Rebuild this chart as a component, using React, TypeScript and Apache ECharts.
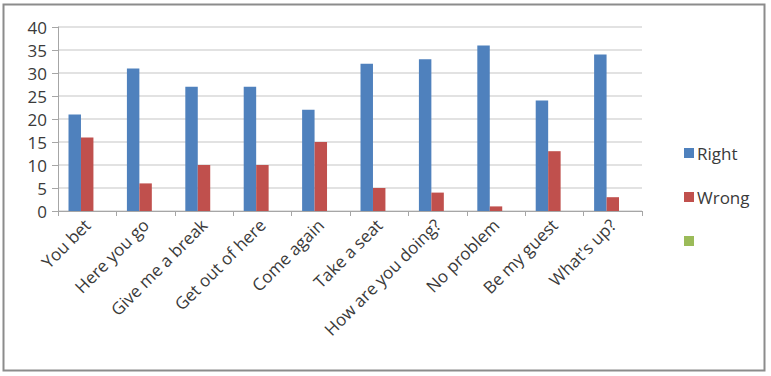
import React, { useEffect, useRef } from "react";
import * as echarts from "echarts";

const categories = [
  "You bet",
  "Here you go",
  "Give me a break",
  "Get out of here",
  "Come again",
  "Take a seat",
  "How are you doing?",
  "No problem",
  "Be my guest",
  "What's up?",
];
const rightValues = [21, 31, 27, 27, 22, 32, 33, 36, 24, 34];
const wrongValues = [16, 6, 10, 10, 15, 5, 4, 1, 13, 3];
const thirdValues: number[] = [];
const seriesNames = ["Right", "Wrong", "\u00a0"];
const yTicks = { min: 0, max: 40, interval: 5 };

export default function App() {
  const ref = useRef<HTMLDivElement>(null);
  useEffect(() => {
    if (!ref.current) return;
    const chart = echarts.init(ref.current, undefined, { renderer: "svg" });
    const font = "'Open Sans', Lato, sans-serif";
    chart.setOption({
      animation: false,
      backgroundColor: "#ffffff",
      textStyle: { fontFamily: font },
      grid: { left: 58, right: 129, top: 27, bottom: 165 },
      legend: {
        orient: "vertical",
        left: 679,
        top: 138,
        itemWidth: 10,
        itemHeight: 10,
        itemGap: 24,
        icon: "rect",
        data: seriesNames,
        textStyle: { fontSize: 17, lineHeight: 20, color: "#3a3a3a", fontFamily: font, padding: [0, 0, 0, -2] },
      },
      xAxis: {
        type: "category",
        data: categories,
        axisLine: { lineStyle: { color: "#a6a6a6", width: 1 } },
        axisTick: { show: true, length: 5, lineStyle: { color: "#a6a6a6" }, alignWithLabel: false },
        axisLabel: { rotate: 45, fontSize: 17, color: "#3a3a3a", margin: 11, interval: 0, fontFamily: font },
      },
      yAxis: {
        type: "value",
        min: yTicks.min,
        max: yTicks.max,
        interval: yTicks.interval,
        axisLine: { show: true, lineStyle: { color: "#a6a6a6", width: 1 } },
        axisTick: { show: true, length: 6, lineStyle: { color: "#a6a6a6" } },
        splitLine: { show: true, lineStyle: { color: "#d9d9d9", width: 1.5 } },
        axisLabel: { fontSize: 17, color: "#3a3a3a", margin: 11, fontFamily: font },
      },
      series: [
        {
          name: seriesNames[0],
          type: "bar",
          data: rightValues,
          itemStyle: { color: "#4f81bd" },
          barGap: "0%",
          barCategoryGap: "36%",
        },
        {
          name: seriesNames[1],
          type: "bar",
          data: wrongValues,
          itemStyle: { color: "#c0504d" },
          barGap: "0%",
          barCategoryGap: "36%",
        },
        {
          name: seriesNames[2],
          type: "bar",
          data: thirdValues,
          itemStyle: { color: "#9bbb59" },
          barGap: "0%",
          barCategoryGap: "36%",
        },
      ],
      graphic: [
        {
          type: "rect",
          shape: { x: 3.5, y: 4.5, width: 761, height: 366 },
          style: { fill: "none", stroke: "#8c8c8c", lineWidth: 2 },
          silent: true,
        },
      ],
    });
    return () => chart.dispose();
  }, []);
  return (
    <div
      ref={ref}
      style={{ position: "fixed", left: 0, top: 0, width: 771, height: 376 }}
    />
  );
}
